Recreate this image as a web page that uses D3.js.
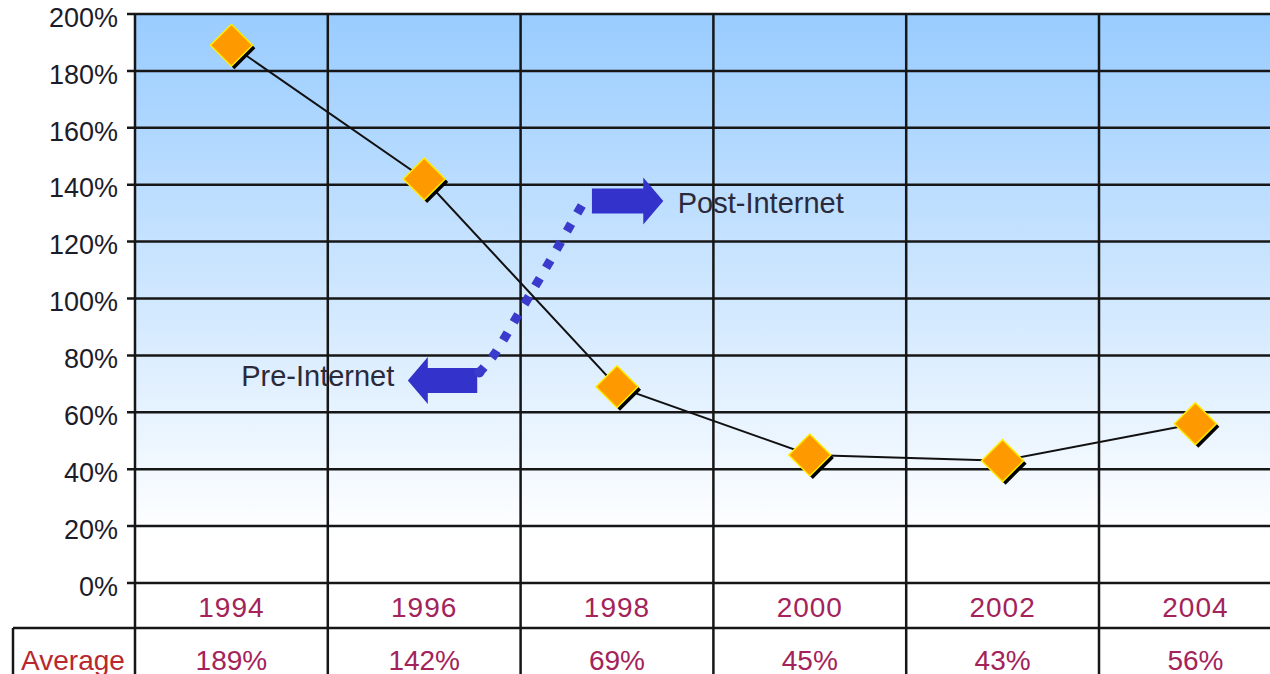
<!DOCTYPE html>
<html>
<head>
<meta charset="utf-8">
<script src="https://cdn.jsdelivr.net/npm/d3@7"></script>
<style>
  html, body { margin: 0; padding: 0; background: #fff; overflow: hidden; }
</style>
</head>
<body>
<script>
// Average per year (percent)
const years = ["1994", "1996", "1998", "2000", "2002", "2004"];
const averages = [189, 142, 69, 45, 43, 56];
const yTicks = [0, 20, 40, 60, 80, 100, 120, 140, 160, 180, 200];
const rowLabel = "Average";

// Annotations, placed in data units (year, percent)
const postArrow = {from: 1997.74, to: 1998.48, pct: 134.3, label: "Post-Internet", labelAt: 1998.63};
const preArrow = {from: 1996.55, to: 1995.83, pct: 71.2, label: "Pre-Internet", labelAt: 1995.69};
const dottedPath = [[1996.56, 73.5], [1996.72, 80], [1996.96, 93.5], [1997.31, 113.5], [1997.52, 126], [1997.64, 133]];

const W = 1270, H = 674;
const plotLeft = 135, plotTop = 14, plotBottom = 583, colW = 192.8;
const catRow = 628;

const svg = d3.select("body").append("svg")
  .attr("width", W).attr("height", H)
  .style("display", "block");

const x = d3.scaleBand().domain(years).range([plotLeft, plotLeft + colW * years.length]);
const y = d3.scaleLinear().domain([0, 200]).range([plotBottom, plotTop]);
const xYear = d3.scaleLinear().domain([1994, 2004])
  .range([x("1994") + x.bandwidth() / 2, x("2004") + x.bandwidth() / 2]);

const plotRight = plotLeft + colW * years.length;
const gridColor = "#161616";
const textRed = "#a3235a";
const sans = "'Liberation Sans', Arial, sans-serif";

// Background gradient
const grad = svg.append("defs").append("linearGradient")
  .attr("id", "bg").attr("x1", 0).attr("y1", 0).attr("x2", 0).attr("y2", 1);
grad.append("stop").attr("offset", "0%").attr("stop-color", "#99ccff");
grad.append("stop").attr("offset", "92%").attr("stop-color", "#ffffff");

svg.append("rect")
  .attr("x", plotLeft).attr("y", plotTop)
  .attr("width", plotRight - plotLeft).attr("height", plotBottom - plotTop)
  .attr("fill", "url(#bg)");

// Horizontal grid + ticks
svg.append("g")
  .selectAll("line").data(yTicks).join("line")
  .attr("x1", plotLeft - 8).attr("x2", plotRight)
  .attr("y1", d => y(d)).attr("y2", d => y(d))
  .attr("stroke", gridColor).attr("stroke-width", 2.5);

svg.append("g")
  .selectAll("text").data(yTicks).join("text")
  .attr("x", 118).attr("y", d => y(d) + 3)
  .attr("dy", "0.36em")
  .attr("text-anchor", "end")
  .attr("font-family", sans).attr("font-size", 27)
  .attr("fill", "#1c1c2a")
  .text(d => d + "%");

// Vertical grid (through the data table)
const vx = years.map(d => x(d)).concat([plotRight]);
svg.append("g")
  .selectAll("line").data(vx).join("line")
  .attr("x1", d => d).attr("x2", d => d)
  .attr("y1", plotTop).attr("y2", H)
  .attr("stroke", gridColor).attr("stroke-width", 2.5);

// Data table lines
svg.append("line")
  .attr("x1", 13).attr("x2", plotRight)
  .attr("y1", catRow).attr("y2", catRow)
  .attr("stroke", gridColor).attr("stroke-width", 2.5);
svg.append("line")
  .attr("x1", 13).attr("x2", 13)
  .attr("y1", catRow).attr("y2", H)
  .attr("stroke", gridColor).attr("stroke-width", 2.5);

// Category labels
svg.append("g")
  .selectAll("text").data(years).join("text")
  .attr("x", d => x(d) + x.bandwidth() / 2)
  .attr("y", 607).attr("dy", "0.36em")
  .attr("text-anchor", "middle")
  .attr("font-family", sans).attr("font-size", 28)
  .attr("letter-spacing", 1)
  .attr("fill", textRed)
  .text(d => d);

// Table values
svg.append("g")
  .selectAll("text").data(averages).join("text")
  .attr("x", (d, i) => x(years[i]) + x.bandwidth() / 2)
  .attr("y", 660).attr("dy", "0.36em")
  .attr("text-anchor", "middle")
  .attr("font-family", sans).attr("font-size", 28)
  .attr("fill", textRed)
  .text(d => d + "%");

svg.append("text")
  .attr("x", 73).attr("y", 660).attr("dy", "0.36em")
  .attr("text-anchor", "middle")
  .attr("font-family", sans).attr("font-size", 28)
  .attr("fill", "#b8282e")
  .text(rowLabel);

// Dotted connector
svg.append("path")
  .attr("d", d3.line().curve(d3.curveCatmullRom)
    .x(d => xYear(d[0])).y(d => y(d[1]))(dottedPath))
  .attr("fill", "none")
  .attr("stroke", "#3a3acc").attr("stroke-width", 9)
  .attr("stroke-dasharray", "9,12");

// Block arrows
function blockArrow(a) {
  const x0 = xYear(a.from), x1 = xYear(a.to), cy = y(a.pct);
  const dir = Math.sign(x1 - x0);
  const head = 20, bodyH = 12.5, headH = 23.5;
  const xb = x1 - dir * head;
  return `M${x0},${cy - bodyH}L${xb},${cy - bodyH}L${xb},${cy - headH}L${x1},${cy}` +
    `L${xb},${cy + headH}L${xb},${cy + bodyH}L${x0},${cy + bodyH}Z`;
}
for (const a of [postArrow, preArrow]) {
  svg.append("path").attr("d", blockArrow(a)).attr("fill", "#3333cc");
}
svg.append("circle")
  .attr("cx", xYear(preArrow.from) + 2).attr("cy", y(preArrow.pct) - 8)
  .attr("r", 5).attr("fill", "#3a3acc");

svg.append("text")
  .attr("x", xYear(postArrow.labelAt)).attr("y", y(133.6)).attr("dy", "0.36em")
  .attr("font-family", sans).attr("font-size", 29)
  .attr("fill", "#2a2a3a")
  .text(postArrow.label);
svg.append("text")
  .attr("x", xYear(preArrow.labelAt)).attr("y", y(72.8)).attr("dy", "0.36em")
  .attr("text-anchor", "end")
  .attr("font-family", sans).attr("font-size", 29)
  .attr("fill", "#2a2a3a")
  .text(preArrow.label);

// Series line
const pts = averages.map((v, i) => [x(years[i]) + x.bandwidth() / 2, y(v)]);
svg.append("path")
  .attr("d", d3.line()(pts))
  .attr("fill", "none").attr("stroke", "#111").attr("stroke-width", 2);

// Diamond markers with shadow
const diamond = r => `M0,${-r}L${r},0L0,${r}L${-r},0Z`;
const mk = svg.append("g").selectAll("g").data(pts).join("g")
  .attr("transform", d => `translate(${d[0]},${d[1]})`);
mk.append("path").attr("d", diamond(21))
  .attr("transform", "translate(3,3)").attr("fill", "#000");
mk.append("path").attr("d", diamond(21))
  .attr("fill", "#ff9900").attr("stroke", "#ffee00").attr("stroke-width", 1.5);
</script>
</body>
</html>
